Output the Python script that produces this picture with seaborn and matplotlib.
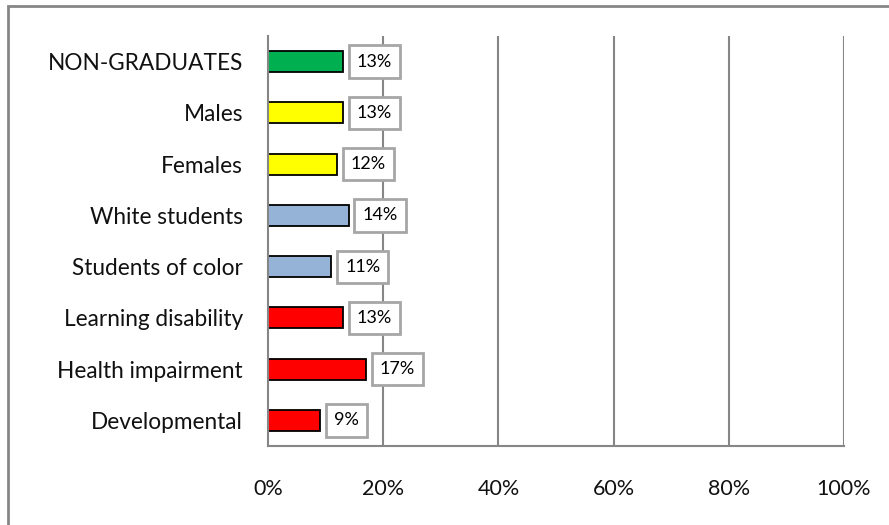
import numpy as np
import pandas as pd
import matplotlib.pyplot as plt
import seaborn as sns
from matplotlib.patches import Rectangle

categories = ["NON-GRADUATES", "Males", "Females", "White students",
              "Students of color", "Learning disability", "Health impairment",
              "Developmental"]
values = [13, 13, 12, 14, 11, 13, 17, 9]
colors = ["#00B050", "#FFFF00", "#FFFF00", "#95B3D7", "#95B3D7",
          "#FF0000", "#FF0000", "#FF0000"]
xticks = [0, 20, 40, 60, 80, 100]

sns.set_theme(style="white")
plt.rcParams['font.family'] = ['Lato', 'DejaVu Sans']

df = pd.DataFrame({"group": categories, "pct": values})

fig = plt.figure(figsize=(8.89, 5.25), dpi=100)
ax = fig.add_axes([268 / 889, 79 / 525, 576 / 889, 410 / 525])

sns.barplot(data=df, x="pct", y="group", hue="group", palette=colors,
            order=categories, hue_order=categories, legend=False,
            saturation=1, width=0.41, edgecolor="black", linewidth=1.3, ax=ax)

ax.set_xlim(0, 100)
ax.set_ylim(len(categories) - 0.5, -0.5)
ax.set_xticks(xticks)
ax.set_xticklabels([f"{t}%" for t in xticks], fontsize=15.5)
ax.set_xlabel("")
ax.set_ylabel("")

# category labels without ticks at centers, ticks at boundaries
ax.set_yticks(np.arange(len(categories)))
ax.set_yticklabels(categories, fontsize=16.3, color="#111111")
ax.tick_params(axis="y", length=0, pad=18)
ax.set_yticks(np.arange(len(categories) + 1) - 0.5, minor=True)
ax.tick_params(axis="y", which="minor", length=7, width=1.5, color="#868686")
ax.tick_params(axis="x", length=7, width=1.5, color="#868686", pad=17,
               labelcolor="#111111")

for g in xticks[1:]:
    ax.axvline(g, color="#868686", lw=1.5, zorder=0)

for s in ["top", "right"]:
    ax.spines[s].set_visible(False)
for s in ["left", "bottom"]:
    ax.spines[s].set_color("#868686")
    ax.spines[s].set_linewidth(1.5)

for i, v in enumerate(values):
    ax.annotate(f"{v}%", xy=(v, i), xytext=(10, 0), textcoords="offset points",
                ha="left", va="center", fontsize=13, color="black",
                bbox=dict(boxstyle="square,pad=0.45", fc="white",
                          ec="#A6A6A6", lw=2))

# outer chart border (left and top visible)
fig.patches.append(Rectangle((8 / 889, -0.05), 1.2, (525 - 6) / 525 + 0.05,
                             transform=fig.transFigure, fill=False,
                             ec="#868686", lw=2))

fig.savefig("out.png", dpi=100)
